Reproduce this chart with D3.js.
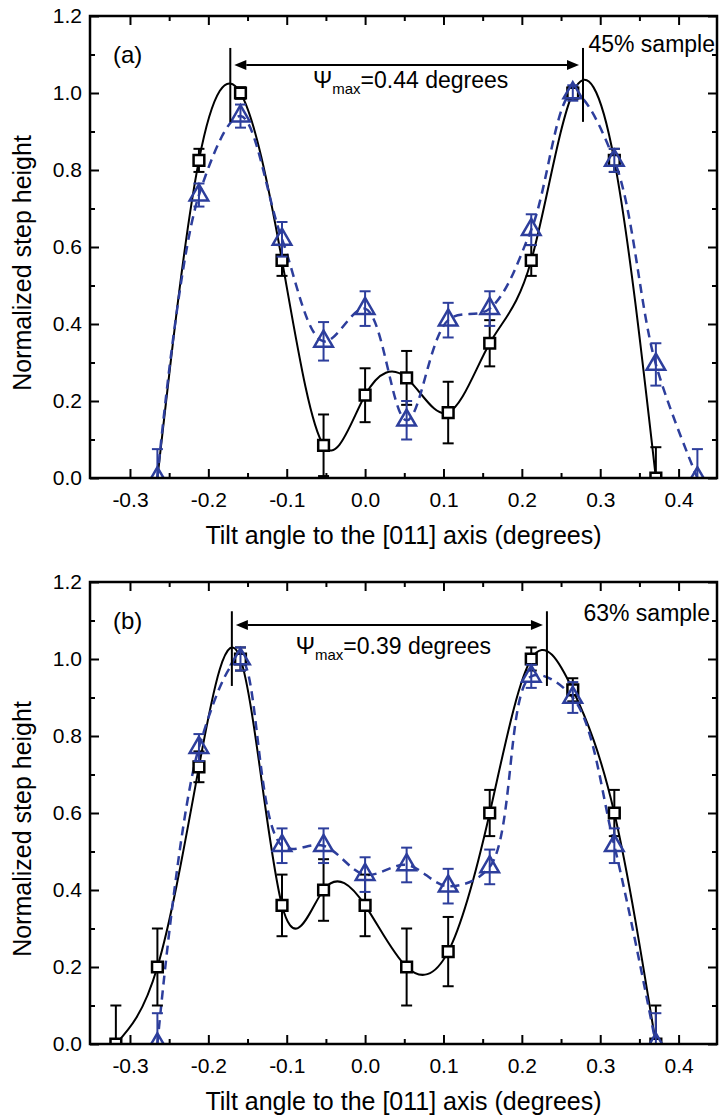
<!DOCTYPE html>
<html>
<head>
<meta charset="utf-8">
<script src="https://cdn.jsdelivr.net/npm/d3@7"></script>
<style>
  body { margin: 0; background: #fff; }
  text { font-family: "Liberation Sans", Arial, Helvetica, sans-serif; fill: #000; }
</style>
</head>
<body>
<svg id="chart" width="719" height="1118"></svg>
<script>
// axis ticks
var xTicks = [-0.3, -0.2, -0.1, 0, 0.1, 0.2, 0.3, 0.4];
var xMinorTicks = [-0.25, -0.15, -0.05, 0.05, 0.15, 0.25, 0.35];
var yTicks = [0, 0.2, 0.4, 0.6, 0.8, 1.0, 1.2];
var yMinorTicks = [0.1, 0.3, 0.5, 0.7, 0.9, 1.1];

// panel (a), 45% sample
var sqAngleA = [-0.212, -0.159, -0.106, -0.053, 0, 0.053, 0.106, 0.159, 0.212, 0.265, 0.318, 0.371];
var sqHeightA = [0.825, 1.0, 0.565, 0.085, 0.215, 0.26, 0.17, 0.35, 0.565, 1.0, 0.825, 0.0];
var sqErrA = [0.03, 0.015, 0.04, 0.08, 0.07, 0.07, 0.08, 0.06, 0.04, 0.015, 0.03, 0.08];
var fitStartA = [-0.265, 0.0];
var triAngleA = [-0.265, -0.212, -0.159, -0.106, -0.053, 0, 0.053, 0.106, 0.159, 0.212, 0.265, 0.318, 0.371, 0.424];
var triHeightA = [0.0, 0.735, 0.94, 0.62, 0.355, 0.44, 0.15, 0.41, 0.44, 0.645, 1.0, 0.825, 0.295, 0.0];
var triErrA = [0.075, 0.03, 0.03, 0.045, 0.05, 0.045, 0.05, 0.045, 0.045, 0.04, 0.02, 0.03, 0.055, 0.075];
var psiLinesA = [-0.172, 0.278];

// panel (b), 63% sample
var sqAngleB = [-0.318, -0.265, -0.212, -0.159, -0.106, -0.053, 0, 0.053, 0.106, 0.159, 0.212, 0.265, 0.318, 0.371];
var sqHeightB = [0.0, 0.2, 0.72, 1.0, 0.36, 0.40, 0.36, 0.20, 0.24, 0.60, 1.0, 0.92, 0.60, 0.0];
var sqErrB = [0.1, 0.1, 0.04, 0.03, 0.08, 0.08, 0.08, 0.1, 0.09, 0.06, 0.03, 0.03, 0.06, 0.1];
var triAngleB = [-0.265, -0.212, -0.159, -0.106, -0.053, 0, 0.053, 0.106, 0.159, 0.212, 0.265, 0.318, 0.371];
var triHeightB = [0.0, 0.77, 1.0, 0.515, 0.515, 0.44, 0.465, 0.41, 0.46, 0.955, 0.90, 0.515, 0.0];
var triErrB = [0.08, 0.035, 0.03, 0.045, 0.045, 0.045, 0.045, 0.045, 0.045, 0.03, 0.04, 0.045, 0.08];
var psiLinesB = [-0.170, 0.232];

var blue = "#2d3e9c";
var xDomain = [-0.351, 0.449],
    yDomain = [0, 1.2];
var plotLeft = 90,
    plotRight = 717;

var svg = d3.select("#chart");

var panels = [
  { id: "a", label: "(a)", sample: "45% sample", psiValue: "=0.44 degrees",
    top: 16, bottom: 478, sampleX: 715, sampleDy: 36,
    sqAngle: sqAngleA, sqHeight: sqHeightA, sqErr: sqErrA, fitStart: fitStartA,
    triAngle: triAngleA, triHeight: triHeightA, triErr: triErrA,
    psiLines: psiLinesA, psiLineSpan: [0.925, 1.117], arrowY: 1.073 },
  { id: "b", label: "(b)", sample: "63% sample", psiValue: "=0.39 degrees",
    top: 582, bottom: 1044, sampleX: 710, sampleDy: 39,
    sqAngle: sqAngleB, sqHeight: sqHeightB, sqErr: sqErrB, fitStart: null,
    triAngle: triAngleB, triHeight: triHeightB, triErr: triErrB,
    psiLines: psiLinesB, psiLineSpan: [0.93, 1.124], arrowY: 1.088 }
];

panels.forEach(drawPanel);


function drawPanel(p) {
  var x = d3.scaleLinear().domain(xDomain).range([plotLeft, plotRight]);
  var y = d3.scaleLinear().domain(yDomain).range([p.bottom, p.top]);
  var g = svg.append("g").attr("class", "panel-" + p.id);

  var squares = p.sqAngle.map(function (a, i) {
    return { x: a, y: p.sqHeight[i], e: p.sqErr[i] };
  });
  var triangles = p.triAngle.map(function (a, i) {
    return { x: a, y: p.triHeight[i], e: p.triErr[i] };
  });
  var fitPoints = squares.slice();
  if (p.fitStart) fitPoints.unshift({ x: p.fitStart[0], y: p.fitStart[1] });

  svg.append("clipPath")
    .attr("id", "clip-" + p.id)
    .append("rect")
      .attr("x", plotLeft)
      .attr("y", p.top)
      .attr("width", plotRight - plotLeft)
      .attr("height", p.bottom - p.top);

  var plot = g.append("g").attr("clip-path", "url(#clip-" + p.id + ")");

  var line = d3.line()
    .x(function (d) { return x(d.x); })
    .y(function (d) { return y(d.y); });

  plot.append("path")
    .datum(fitPoints)
    .attr("d", line.curve(d3.curveNatural))
    .attr("fill", "none")
    .attr("stroke", "#000")
    .attr("stroke-width", 2);

  plot.append("path")
    .datum(triangles)
    .attr("d", line.curve(d3.curveCatmullRom.alpha(0.5)))
    .attr("fill", "none")
    .attr("stroke", blue)
    .attr("stroke-width", 2.5)
    .attr("stroke-dasharray", "9,6");

  drawErrors(plot, squares, "#000", x, y);
  plot.selectAll(".sq")
    .data(squares)
    .enter()
    .append("path")
      .attr("class", "sq")
      .attr("transform", function (d) { return "translate(" + x(d.x) + "," + y(d.y) + ")"; })
      .attr("d", d3.symbol(d3.symbolSquare, 115))
      .attr("fill", "#fff")
      .attr("stroke", "#000")
      .attr("stroke-width", 2.5);

  drawErrors(plot, triangles, blue, x, y);
  plot.selectAll(".tri")
    .data(triangles)
    .enter()
    .append("path")
      .attr("class", "tri")
      .attr("transform", function (d) { return "translate(" + x(d.x) + "," + y(d.y) + ")"; })
      .attr("d", d3.symbol(d3.symbolTriangle, 150))
      .attr("fill", "none")
      .attr("stroke", blue)
      .attr("stroke-width", 2.5);

  // axes, ticks pointing inward
  var fmt = function (d) { return d.toFixed(1); };
  g.append("g")
    .attr("transform", "translate(0," + p.bottom + ")")
    .call(d3.axisBottom(x).tickValues(xTicks).tickFormat(fmt).tickSizeInner(-9).tickSizeOuter(0).tickPadding(14));
  g.append("g")
    .attr("transform", "translate(0," + p.bottom + ")")
    .call(d3.axisBottom(x).tickValues(xMinorTicks).tickFormat("").tickSizeInner(-5).tickSizeOuter(0));
  g.append("g")
    .attr("transform", "translate(0," + p.top + ")")
    .call(d3.axisTop(x).tickValues(xTicks).tickFormat("").tickSizeInner(-9).tickSizeOuter(0));
  g.append("g")
    .attr("transform", "translate(0," + p.top + ")")
    .call(d3.axisTop(x).tickValues(xMinorTicks).tickFormat("").tickSizeInner(-5).tickSizeOuter(0));
  g.append("g")
    .attr("transform", "translate(" + plotLeft + ",0)")
    .call(d3.axisLeft(y).tickValues(yTicks).tickFormat(fmt).tickSizeInner(-9).tickSizeOuter(0).tickPadding(8));
  g.append("g")
    .attr("transform", "translate(" + plotLeft + ",0)")
    .call(d3.axisLeft(y).tickValues(yMinorTicks).tickFormat("").tickSizeInner(-5).tickSizeOuter(0));
  g.append("g")
    .attr("transform", "translate(" + plotRight + ",0)")
    .call(d3.axisRight(y).tickValues(yTicks).tickFormat("").tickSizeInner(-9).tickSizeOuter(0));
  g.append("g")
    .attr("transform", "translate(" + plotRight + ",0)")
    .call(d3.axisRight(y).tickValues(yMinorTicks).tickFormat("").tickSizeInner(-5).tickSizeOuter(0));

  g.selectAll(".domain").remove();
  g.selectAll(".tick line").attr("stroke", "#000").attr("stroke-width", 2);
  g.selectAll(".tick text")
    .attr("font-size", 21)
    .attr("font-family", null)
    .attr("fill", "#000");

  g.append("rect")
    .attr("x", plotLeft)
    .attr("y", p.top)
    .attr("width", plotRight - plotLeft)
    .attr("height", p.bottom - p.top)
    .attr("fill", "none")
    .attr("stroke", "#000")
    .attr("stroke-width", 2.5);

  // axis titles
  g.append("text")
    .attr("x", (plotLeft + plotRight) / 2)
    .attr("y", p.bottom + 66)
    .attr("text-anchor", "middle")
    .attr("font-size", 25)
    .text("Tilt angle to the [011] axis (degrees)");
  g.append("text")
    .attr("transform", "translate(31," + ((p.top + p.bottom) / 2 + 16) + ") rotate(-90)")
    .attr("text-anchor", "middle")
    .attr("font-size", 25)
    .text("Normalized step height");

  // panel label and sample name
  g.append("text")
    .attr("x", plotLeft + 23)
    .attr("y", p.top + 47)
    .attr("font-size", 24)
    .text(p.label);
  g.append("text")
    .attr("x", p.sampleX)
    .attr("y", p.top + p.sampleDy)
    .attr("text-anchor", "end")
    .attr("font-size", 23)
    .text(p.sample);

  drawPsi(g, p, x, y);
}


function drawErrors(sel, pts, color, x, y) {
  var cap = 5.5;
  var bars = sel.selectAll(null)
    .data(pts)
    .enter()
    .append("g")
      .attr("stroke", color)
      .attr("stroke-width", 2);
  bars.append("line")
    .attr("x1", function (d) { return x(d.x); })
    .attr("x2", function (d) { return x(d.x); })
    .attr("y1", function (d) { return y(d.y - d.e); })
    .attr("y2", function (d) { return y(d.y + d.e); });
  bars.append("line")
    .attr("x1", function (d) { return x(d.x) - cap; })
    .attr("x2", function (d) { return x(d.x) + cap; })
    .attr("y1", function (d) { return y(d.y + d.e); })
    .attr("y2", function (d) { return y(d.y + d.e); });
  bars.append("line")
    .attr("x1", function (d) { return x(d.x) - cap; })
    .attr("x2", function (d) { return x(d.x) + cap; })
    .attr("y1", function (d) { return y(d.y - d.e); })
    .attr("y2", function (d) { return y(d.y - d.e); });
}


function drawPsi(g, p, x, y) {
  var x0 = x(p.psiLines[0]),
      x1 = x(p.psiLines[1]),
      ay = y(p.arrowY),
      head = 12,
      half = 5;
  g.selectAll(".psi-line-" + p.id)
    .data(p.psiLines)
    .enter()
    .append("line")
      .attr("x1", function (d) { return x(d); })
      .attr("x2", function (d) { return x(d); })
      .attr("y1", y(p.psiLineSpan[0]))
      .attr("y2", y(p.psiLineSpan[1]))
      .attr("stroke", "#000")
      .attr("stroke-width", 2);
  g.append("line")
    .attr("x1", x0 + 4 + head)
    .attr("x2", x1 - 4 - head)
    .attr("y1", ay)
    .attr("y2", ay)
    .attr("stroke", "#000")
    .attr("stroke-width", 2);
  g.append("path")
    .attr("d", "M" + (x0 + 4) + "," + ay + "L" + (x0 + 4 + head) + "," + (ay - half) + "L" + (x0 + 4 + head) + "," + (ay + half) + "Z")
    .attr("fill", "#000");
  g.append("path")
    .attr("d", "M" + (x1 - 4) + "," + ay + "L" + (x1 - 4 - head) + "," + (ay - half) + "L" + (x1 - 4 - head) + "," + (ay + half) + "Z")
    .attr("fill", "#000");

  var t = g.append("text")
    .attr("x", (x0 + x1) / 2 + 4)
    .attr("y", p.top + 72)
    .attr("text-anchor", "middle")
    .attr("font-size", 23);
  t.append("tspan").text("\u03A8");
  t.append("tspan").attr("font-size", 15).attr("dy", 6).text("max");
  t.append("tspan").attr("dy", -6).text(p.psiValue);
}
</script>
</body>
</html>
